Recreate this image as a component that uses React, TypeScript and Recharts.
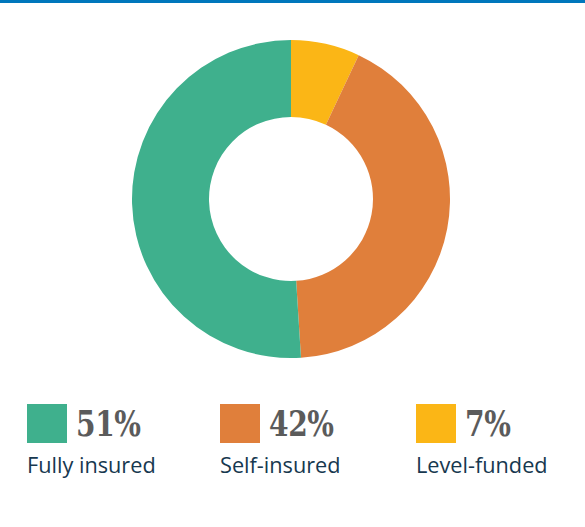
import { PieChart, Pie, Cell } from "recharts";

// clockwise from 12 o'clock
const categories = ["Level-funded", "Self-insured", "Fully insured"];
const shares = [7, 42, 51];
const colors = ["#FBB616", "#E07F3B", "#3FB08D"];

// legend order (left to right)
const legendOrder = [2, 1, 0];
const legendX = [27, 220, 416];

const data = categories.map((name, i) => ({ name, value: shares[i] }));

export default function App() {
  return (
    <div
      style={{
        position: "absolute",
        left: 0,
        top: 0,
        width: 585,
        height: 527,
        background: "#fff",
        overflow: "hidden",
      }}
    >
      <div style={{ height: 3, background: "#0077BC" }} />
      <PieChart
        width={585}
        height={390}
        margin={{ top: 0, right: 0, bottom: 0, left: 0 }}
        style={{ position: "absolute", top: 0, left: 0 }}
      >
        <Pie
          data={data}
          dataKey="value"
          nameKey="name"
          cx={291}
          cy={199}
          innerRadius={82}
          outerRadius={159}
          startAngle={90}
          endAngle={-270}
          stroke="none"
          isAnimationActive={false}
        >
          {data.map((d, i) => (
            <Cell key={d.name} fill={colors[i]} />
          ))}
        </Pie>
      </PieChart>
      {legendOrder.map((idx, k) => (
        <div key={categories[idx]} style={{ position: "absolute", left: legendX[k], top: 404 }}>
          <div style={{ display: "flex", alignItems: "center" }}>
            <div style={{ width: 40, height: 39, background: colors[idx] }} />
            <span
              style={{
                marginLeft: 9,
                fontFamily: "'DejaVu Serif', serif",
                fontWeight: 700,
                fontSize: 36,
                color: "#5B5B5B",
                lineHeight: "39px",
                letterSpacing: -0.5,
                display: "inline-block",
                transform: "scaleX(0.78)",
                transformOrigin: "left center",
              }}
            >
              {shares[idx]}%
            </span>
          </div>
          <div
            style={{
              marginTop: 9,
              fontFamily: "'Open Sans', sans-serif",
              fontSize: 21.7,
              color: "#17384F",
              whiteSpace: "nowrap",
              lineHeight: "26px",
            }}
          >
            {categories[idx]}
          </div>
        </div>
      ))}
    </div>
  );
}
